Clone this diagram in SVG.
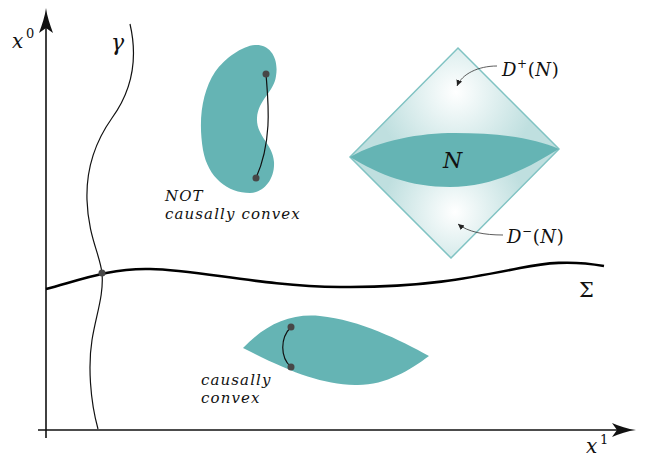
<svg xmlns="http://www.w3.org/2000/svg" width="648" height="461" viewBox="0 0 648 461">
<style>
text{font-family:"DejaVu Serif","Liberation Serif",serif}
.m{font-style:italic;fill:#111}
.u{font-style:normal;fill:#111}
.teal{fill:#65b4b4}
.dot{fill:#474747}
.thin{fill:none;stroke:#111;stroke-width:1.2}
.lbl{font-size:15px;letter-spacing:1.1px}
</style>
<defs>
<radialGradient id="gTop" gradientUnits="userSpaceOnUse" cx="456" cy="92" r="80">
<stop offset="0" stop-color="#ffffff"/><stop offset="1" stop-color="#bfdfdf"/>
</radialGradient>
<radialGradient id="gBot" gradientUnits="userSpaceOnUse" cx="455" cy="212" r="72">
<stop offset="0" stop-color="#ffffff"/><stop offset="1" stop-color="#bfdfdf"/>
</radialGradient>
<marker id="sa" markerWidth="8" markerHeight="8" refX="6" refY="4" orient="auto" markerUnits="userSpaceOnUse">
<path d="M0 1 L6 4 L0 7 Z" fill="#222"/>
</marker>
</defs>

<g id="axes">
<line x1="46" y1="438" x2="46" y2="26" stroke="#111" stroke-width="1.6"/>
<path d="M46 8 C47 16 50 25 53 33 L46 28 L39 33 C42 25 45 16 46 8 Z" fill="#111"/>
<line x1="38" y1="430" x2="618" y2="430" stroke="#111" stroke-width="1.6"/>
<path d="M636 430 C628 431 619 434 612 437 L617 430 L612 423 C619 426 628 429 636 430 Z" fill="#111"/>
<text class="m" x="12" y="48" font-size="20">x</text><text class="u" x="26" y="38" font-size="13">0</text>
<text class="m" x="586" y="453" font-size="20">x</text><text class="u" x="600" y="444" font-size="13">1</text>
</g>

<g id="gamma">
<path class="thin" d="M130 24 C136 50 136 85 112 118 C95 142 86 170 87 200 C88 235 100 255 102 273 C104 295 96 315 92 340 C88 365 90 400 98 429"/>
<text class="m" x="111" y="50" font-size="22">γ</text>
</g>

<g id="sigma">
<path d="M46 289 C80 280 110 268 150 269 C200 270 260 286 340 287 C420 288 470 278 520 268 C545 263 570 260 604 266" fill="none" stroke="#000" stroke-width="2.6"/>
<text class="u" x="579" y="297" font-size="21">Σ</text>
<circle class="dot" cx="102" cy="273" r="3.5"/>
</g>

<g id="not-convex">
<path class="teal" d="M255 45 C270 44 279 58 276 76 C274 92 258 100 257 118 C256 136 273 144 274 162 C275 180 263 193 250 193 C228 193 208 178 203 150 C198 120 202 92 215 72 C225 58 242 46 255 45 Z"/>
<path class="thin" d="M266 74 C268 100 273 140 256 178"/>
<circle class="dot" cx="266" cy="74" r="3.5"/>
<circle class="dot" cx="256" cy="178" r="3.5"/>
<text class="m lbl" x="165" y="201">NOT</text>
<text class="m lbl" x="165" y="219">causally convex</text>
</g>

<g id="convex">
<path class="teal" d="M243 348 C265 325 290 313 320 316 C360 320 400 340 429 356 C410 370 385 386 355 385 C320 384 290 372 243 348 Z"/>
<path class="thin" d="M291 327 C280 338 280 357 291 367"/>
<circle class="dot" cx="291" cy="327" r="3.5"/>
<circle class="dot" cx="291" cy="367" r="3.5"/>
<text class="m lbl" x="201" y="385">causally</text>
<text class="m lbl" x="201" y="403">convex</text>
</g>

<g id="domain">
<path d="M458 48 L559 149 L350 157 Z" fill="url(#gTop)"/>
<path d="M350 157 L559 149 L451 258 Z" fill="url(#gBot)"/>
<path d="M458 48 L559 149 L451 258 L350 157 Z" fill="none" stroke="#80c3c3" stroke-width="1.5" stroke-linejoin="miter"/>
<path class="teal" d="M350 157 C380 140 420 133 455 133 C500 133 535 138 559 149 C540 160 500 187 450 187 C410 187 380 175 350 157 Z"/>
<text class="m" x="443" y="168" font-size="22">N</text>
</g>

<g id="connectors">
<path d="M497 66 C478 66 462 74 457 86" fill="none" stroke="#333" stroke-width="0.8" marker-end="url(#sa)"/>
<path d="M503 235 C484 235 468 232 458 224" fill="none" stroke="#333" stroke-width="0.8" marker-end="url(#sa)"/>
</g>

<g id="labels">
<text x="502" y="76" font-size="18" letter-spacing="0.6"><tspan class="m">D</tspan><tspan class="u" font-size="12" dy="-8">+</tspan><tspan class="u" dy="8">(</tspan><tspan class="m">N</tspan><tspan class="u">)</tspan></text>
<text x="507" y="243" font-size="18" letter-spacing="0.6"><tspan class="m">D</tspan><tspan class="u" font-size="12" dy="-8">−</tspan><tspan class="u" dy="8">(</tspan><tspan class="m">N</tspan><tspan class="u">)</tspan></text>
</g>
</svg>
